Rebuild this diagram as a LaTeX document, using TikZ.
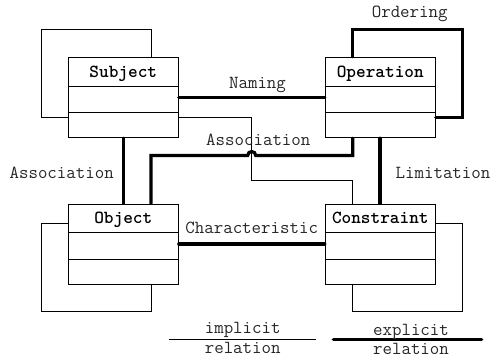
\documentclass[tikz,border=0pt]{standalone}
\usepackage{fontspec}
\begin{document}
\begin{tikzpicture}[x=1bp,y=-1bp,
  cls/.style={draw,line width=1bp,minimum width=110bp,minimum height=80.4bp,inner sep=0pt},
  ttl/.style={font=\fontsize{18.4bp}{20bp}\selectfont\ttfamily\bfseries,inner sep=0pt,anchor=base},
  lbl/.style={font=\fontsize{18.4bp}{20bp}\selectfont\ttfamily,inner sep=0pt,text=black!85,anchor=base},
  thin/.style={line width=0.8bp},
  thk/.style={line width=3.2bp,line cap=round,line join=miter}]
\useasboundingbox (0,0) rectangle (491,358);
% classes
\node[cls] (subj) at (123.3,97.5) {};
\node[cls] (oper) at (380.3,97.5) {};
\node[cls] (obj) at (123.3,244.2) {};
\node[cls] (cons) at (380.3,244.2) {};
\node[ttl] (subjT) at (123.3,77.3) {Subject};
\node[ttl] (operT) at (380.3,77.3) {Operation};
\node[ttl] (objT) at (123.3,223.5) {Object};
\node[ttl] (consT) at (380.3,223.5) {Constraint};
\foreach \n in {subj,oper}{
  \draw[line width=1bp] (\n.west |- 0,86.7) -- (\n.east |- 0,86.7);
  \draw[line width=1bp] (\n.west |- 0,112.3) -- (\n.east |- 0,112.3);}
\foreach \n in {obj,cons}{
  \draw[line width=1bp] (\n.west |- 0,232.7) -- (\n.east |- 0,232.7);
  \draw[line width=1bp] (\n.west |- 0,259) -- (\n.east |- 0,259);}
% self loops (implicit)
\draw[thin] (subj.north -| 151,0) -- (151,29.7) -- (41,29.7) -- (41,117.3) -- (subj.west |- 0,117.3);
\draw[thin] (obj.west |- 0,223.7) -- (41,223.7) -- (41,311.7) -- (151,311.7) -- (obj.south -| 151,0);
\draw[thin] (cons.east |- 0,223.7) -- (462.3,223.7) -- (462.3,311.7) -- (352.7,311.7) -- (cons.south -| 352.7,0);
% implicit subject-constraint
\draw[thin] (subj.east |- 0,117.5) -- (251.7,117.5) -- (251.7,180) -- (352.7,180) -- (cons.north -| 352.7,0);
% explicit relations
\draw[thk] (subj.east |- 0,97.7) -- (oper.west |- 0,97.7);
\node[lbl] (naming) at (257.5,88) {Naming};
\draw[thk] (oper.north -| 352.7,0) -- (352.7,29.7) -- (462.3,29.7) -- (462.3,117.3) -- (oper.east |- 0,117.3);
\node[lbl] (ordering) at (409.7,17) {Ordering};
\draw[thk] (subj.south -| 123.7,0) -- (obj.north -| 123.7,0);
\node[lbl] (assocL) at (61.7,178.3) {Association};
\draw[thk] (oper.south -| 352.7,0) -- (352.7,155.5) -- (255.7,155.5)
  arc[start angle=0,end angle=180,radius=4bp] -- (151,155.5) -- (obj.north -| 151,0);
\node[lbl] (assocM) at (258.3,145.2) {Association};
\draw[thk] (oper.south -| 380,0) -- (cons.north -| 380,0);
\node[lbl] (limit) at (443,178.3) {Limitation};
\draw[thk] (obj.east |- 0,244) -- (cons.west |- 0,244);
\node[lbl] (charac) at (251.7,233.3) {Characteristic};
% legend
\coordinate (i1) at (169.3,339.3); \coordinate (i2) at (316,339.3);
\draw[thin] (i1) -- (i2);
\node[lbl] (impl) at (242.7,333.4) {implicit};
\node[lbl] (implR) at (242.7,353.5) {relation};
\coordinate (e1) at (333.3,339.3); \coordinate (e2) at (481.7,339.3);
\draw[thk] (e1) -- (e2);
\node[lbl] (expl) at (411,335) {explicit};
\node[lbl] (explR) at (411,354) {relation};
\end{tikzpicture}
\end{document}
